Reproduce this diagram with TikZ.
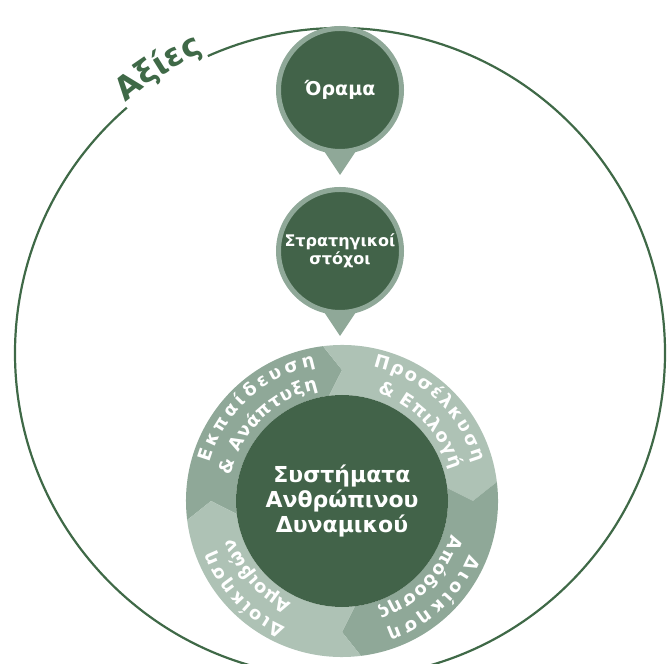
\documentclass[tikz,border=0pt]{standalone}
\usepackage{fontspec}
\setmainfont{DejaVu Sans}
\usepackage{tikz}
\usetikzlibrary{calc}
\usetikzlibrary{decorations.text}
\definecolor{hrgreen}{HTML}{426349}
\definecolor{hrline}{HTML}{3F6947}
\definecolor{hrring}{HTML}{8FA898}
\definecolor{hrpale}{HTML}{AEC2B5}
\tikzset{
  pin/.style={circle, fill=hrgreen, draw=hrring, line width=5pt, minimum size=123pt, inner sep=0pt, text=white, align=center},
  ringtext/.style={decorate, decoration={text along path, text align={fit to path}, text={|\bfseries\fontsize{18}{18}\selectfont\color{white}|#1}}}
}

\begin{document}
\begin{tikzpicture}[x=1pt, y=1pt]
	\useasboundingbox (0,0) rectangle (668,663);
	\clip (0,0) rectangle (668,663);
	\coordinate (o) at (340,310);
	\draw [hrline, line width=2.2pt] (o) ++(131:325) arc[start angle=131, end angle=474, radius=325];
	\path [decorate, decoration={text along path, text align=center, text={|\bfseries\fontsize{32}{32}\selectfont\color{hrline}|Αξίες}}] (o) ++(140:330) arc[start angle=140, end angle=105, radius=330];
	\coordinate (v) at (340,573);
	\fill [hrring] ($(v)+(-20,-55)$) -- ($(v)+(20,-55)$) -- ($(v)+(0,-85)$) -- cycle;
	\node [pin, font=\bfseries\fontsize{19}{22}\selectfont] (vision) at (v) {Όραμα};
	\coordinate (g) at (340,412);
	\fill [hrring] ($(g)+(-20,-55)$) -- ($(g)+(20,-55)$) -- ($(g)+(0,-85)$) -- cycle;
	\node [pin, font=\bfseries\fontsize{16}{18}\selectfont] (goals) at (g) {Στρατηγικοί\\στόχοι};
	\coordinate (c) at (342,162);
	\foreach \a/\col in {180/hrring, 90/hrpale, 0/hrring, -90/hrpale}
		\fill [\col] (c) ++(\a+7:156) arc[start angle=\a+7, end angle=\a-83, radius=156] -- ($(c)+(\a-90:131)$) -- ($(c)+(\a-83:106)$) arc[start angle=\a-83, end angle=\a+7, radius=106] -- ($(c)+(\a:131)$) -- cycle;
	\node [circle, fill=hrgreen, minimum size=212pt, inner sep=0pt, text=white, align=center, font=\bfseries\fontsize{22}{25}\selectfont] (hrm) at (c) {Συστήματα\\Ανθρώπινου\\Δυναμικού};
	\path [ringtext={Εκπαίδευση}] (c) ++(164:138) arc[start angle=164, end angle=101, radius=138];
	\path [ringtext={{\&} Ανάπτυξη}] (c) ++(167:114) arc[start angle=167, end angle=102, radius=114];
	\path [ringtext={Προσέλκυση}] (c) ++(77:138) arc[start angle=77, end angle=16, radius=138];
	\path [ringtext={{\&} Επιλογή}] (c) ++(72:114) arc[start angle=72, end angle=16, radius=114];
	\path [ringtext={Διοίκηση}] (c) ++(-23:138) arc[start angle=-23, end angle=-71, radius=138];
	\path [ringtext={Απόδοσης}] (c) ++(-17:114) arc[start angle=-17, end angle=-72, radius=114];
	\path [ringtext={Διοίκηση}] (c) ++(246:138) arc[start angle=246, end angle=201, radius=138];
	\path [ringtext={Αμοιβών}] (c) ++(244:114) arc[start angle=244, end angle=199, radius=114];
\end{tikzpicture}
\end{document}
